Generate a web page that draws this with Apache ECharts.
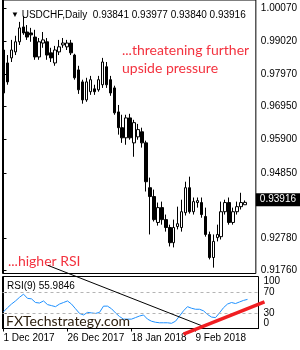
<!DOCTYPE html>
<html>
<head>
<meta charset="utf-8">
<script src="https://cdn.jsdelivr.net/npm/echarts@6/dist/echarts.min.js"></script>
<style>
  html, body { margin: 0; padding: 0; background: #fff; }
  #chart { width: 300px; height: 350px; }
</style>
</head>
<body>
<div id="chart"></div>
<script>
// USDCHF daily bars, 1 Dec 2017 - 28 Feb 2018
const dates = [
  '1 Dec 2017', '4 Dec 2017', '5 Dec 2017', '6 Dec 2017', '7 Dec 2017', '8 Dec 2017',
  '11 Dec 2017', '12 Dec 2017', '13 Dec 2017', '14 Dec 2017', '15 Dec 2017',
  '18 Dec 2017', '19 Dec 2017', '20 Dec 2017', '21 Dec 2017', '22 Dec 2017',
  '26 Dec 2017', '27 Dec 2017', '28 Dec 2017', '29 Dec 2017',
  '2 Jan 2018', '3 Jan 2018', '4 Jan 2018', '5 Jan 2018',
  '8 Jan 2018', '9 Jan 2018', '10 Jan 2018', '11 Jan 2018', '12 Jan 2018',
  '15 Jan 2018', '16 Jan 2018', '17 Jan 2018', '18 Jan 2018', '19 Jan 2018',
  '22 Jan 2018', '23 Jan 2018', '24 Jan 2018', '25 Jan 2018', '26 Jan 2018',
  '29 Jan 2018', '30 Jan 2018', '31 Jan 2018', '1 Feb 2018', '2 Feb 2018',
  '5 Feb 2018', '6 Feb 2018', '7 Feb 2018', '8 Feb 2018', '9 Feb 2018',
  '12 Feb 2018', '13 Feb 2018', '14 Feb 2018', '15 Feb 2018', '16 Feb 2018',
  '19 Feb 2018', '20 Feb 2018', '21 Feb 2018', '22 Feb 2018', '23 Feb 2018',
  '26 Feb 2018', '27 Feb 2018', '28 Feb 2018'
]
const opens = [
  0.9874, 0.9833, 0.9849, 0.9868, 0.9900, 0.9947, 0.9931, 0.9928, 0.9915, 0.9852,
  0.9896, 0.9900, 0.9865, 0.9833, 0.9868, 0.9890, 0.9884, 0.9896, 0.9858, 0.9811,
  0.9773, 0.9716, 0.9742, 0.9751, 0.9748, 0.9764, 0.9821, 0.9780, 0.9754, 0.9678,
  0.9628, 0.9596, 0.9659, 0.9580, 0.9599, 0.9615, 0.9580, 0.9438, 0.9410, 0.9328,
  0.9375, 0.9337, 0.9312, 0.9264, 0.9315, 0.9312, 0.9359, 0.9438, 0.9362, 0.9391,
  0.9391, 0.9347, 0.9290, 0.9217, 0.9280, 0.9283, 0.9362, 0.9391, 0.9328, 0.9362,
  0.9378, 0.93841
]
const closes = [
  0.9738, 0.9773, 0.9874, 0.9900, 0.9944, 0.9928, 0.9915, 0.9922, 0.9852, 0.9900,
  0.9906, 0.9858, 0.9849, 0.9874, 0.9884, 0.9896, 0.9896, 0.9865, 0.9786, 0.9748,
  0.9716, 0.9773, 0.9780, 0.9742, 0.9780, 0.9836, 0.9764, 0.9738, 0.9675, 0.9628,
  0.9596, 0.9659, 0.9596, 0.9644, 0.9622, 0.9580, 0.9457, 0.9410, 0.9337, 0.9375,
  0.9337, 0.9312, 0.9264, 0.9312, 0.9324, 0.9362, 0.9438, 0.9362, 0.9394, 0.9397,
  0.9353, 0.9290, 0.9217, 0.9268, 0.9290, 0.9362, 0.9391, 0.9328, 0.9362, 0.9378,
  0.9391, 0.93916
]
const lows = [
  0.9723, 0.9764, 0.9836, 0.9858, 0.9890, 0.9922, 0.9906, 0.9900, 0.9843, 0.9843,
  0.9881, 0.9843, 0.9836, 0.9824, 0.9858, 0.9881, 0.9874, 0.9858, 0.9780, 0.9735,
  0.9704, 0.9710, 0.9732, 0.9732, 0.9742, 0.9754, 0.9754, 0.9729, 0.9669, 0.9606,
  0.9580, 0.9574, 0.9590, 0.9536, 0.9590, 0.9565, 0.9426, 0.9290, 0.9331, 0.9318,
  0.9321, 0.9299, 0.9252, 0.9249, 0.9306, 0.9299, 0.9350, 0.9356, 0.9353, 0.9375,
  0.9343, 0.9283, 0.9211, 0.9185, 0.9268, 0.9274, 0.9353, 0.9321, 0.9321, 0.9353,
  0.9369, 0.93840
]
const highs = [
  0.9890, 0.9858, 0.9906, 0.9919, 0.9963, 0.9982, 0.9953, 0.9944, 0.9938, 0.9912,
  0.9931, 0.9912, 0.9881, 0.9887, 0.9906, 0.9912, 0.9906, 0.9906, 0.9862, 0.9824,
  0.9780, 0.9786, 0.9792, 0.9764, 0.9792, 0.9849, 0.9836, 0.9792, 0.9761, 0.9700,
  0.9669, 0.9669, 0.9672, 0.9653, 0.9640, 0.9628, 0.9587, 0.9470, 0.9432, 0.9391,
  0.9394, 0.9353, 0.9321, 0.9337, 0.9378, 0.9400, 0.9457, 0.9473, 0.9407, 0.9407,
  0.9407, 0.9375, 0.9299, 0.9290, 0.9321, 0.9394, 0.9400, 0.9407, 0.9375, 0.9394,
  0.9422, 0.93977
]
const rsi = [
  32, 40, 47, 53, 60, 66, 58, 57, 50, 49,
  53, 46, 44, 42, 47, 50, 53, 47, 38, 29,
  26, 31, 30, 29, 31, 43, 43, 38, 30, 23,
  18, 18, 18, 21, 24, 26, 18, 14, 12, 11,
  11, 11, 10, 14, 24, 34, 42, 39, 37, 37,
  34, 27, 22, 21, 30, 40, 47, 50, 48, 51,
  54, 55.9846
]
const priceTicks = [1.0007, 0.9902, 0.9797, 0.9695, 0.959, 0.9485, 0.9278, 0.9176]
const rsiTicks = [0, 30, 70, 100]
const dateTicks = [0, 16, 32, 48]
const lastPrice = 0.93916
const lastRsi = 55.9846

// trend lines, in [bar index, value]
const rsiTrendStart = [11.25, 0.9192]  // main panel
const rsiTrendEnd = [50, 4]            // rsi panel
const supportStart = [45, -11]
const supportEnd = [65.25, 51]

const font = 'Liberation Sans'
const chart = echarts.init(document.getElementById('chart'))

chart.setOption({
  animation: false,
  textStyle: { fontFamily: font },
  title: {
    text: '{tri|▼} USDCHF,Daily  0.93841 0.93977 0.93840 0.93916',
    left: 6,
    top: 5,
    textStyle: {
      fontSize: 10,
      fontWeight: 'normal',
      color: '#000',
      fontFamily: font,
      rich: { tri: { fontSize: 8, color: '#000' } }
    }
  },
  grid: [
    { left: 2.5, right: 41.5, top: -0.5, height: 274, show: true, borderColor: '#000', borderWidth: 1 },
    { left: 2.5, right: 41.5, top: 276.5, height: 52, show: true, borderColor: '#000', borderWidth: 1 }
  ],
  xAxis: [
    { type: 'value', gridIndex: 0, min: -0.25, max: 63.75, show: false },
    {
      type: 'value',
      gridIndex: 1,
      min: -0.25,
      max: 63.75,
      axisLine: { show: true, lineStyle: { color: '#000' } },
      axisTick: { customValues: dateTicks, length: 3, lineStyle: { color: '#000' } },
      axisLabel: {
        customValues: dateTicks,
        formatter: v => dates[v],
        align: 'left',
        margin: 5,
        fontSize: 10,
        color: '#000'
      },
      splitLine: { show: false }
    }
  ],
  yAxis: [
    {
      type: 'value',
      gridIndex: 0,
      position: 'right',
      min: 0.91664,
      max: 1.00323,
      axisLine: { show: true, lineStyle: { color: '#000' } },
      axisTick: { show: true, customValues: priceTicks, length: 3, lineStyle: { color: '#000' } },
      axisLabel: {
        customValues: priceTicks,
        formatter: v => v.toFixed(5),
        fontSize: 10,
        color: '#000',
        margin: 5
      },
      splitLine: { show: false }
    },
    {
      type: 'value',
      gridIndex: 1,
      position: 'right',
      min: 0,
      max: 100,
      axisLine: { show: true, lineStyle: { color: '#000' } },
      axisTick: { show: true, customValues: rsiTicks, length: 3, lineStyle: { color: '#000' } },
      axisLabel: {
        customValues: rsiTicks,
        fontSize: 10,
        color: '#000',
        margin: 5,
        verticalAlignMinLabel: 'bottom',
        verticalAlignMaxLabel: 'top'
      },
      splitLine: { show: false }
    }
  ],
  series: [
    {
      type: 'candlestick',
      xAxisIndex: 0,
      yAxisIndex: 0,
      data: opens.map((o, i) => [i, o, closes[i], lows[i], highs[i]]),
      encode: { x: 0, y: [1, 2, 3, 4] },
      barWidth: 3,
      itemStyle: {
        color: '#fff',
        color0: '#000',
        borderColor: '#000',
        borderColor0: '#000',
        borderWidth: 1
      },
      markLine: {
        silent: true,
        symbol: 'none',
        data: [{ yAxis: lastPrice }],
        lineStyle: { color: 'rgba(0,0,0,0)', width: 1 },
        label: {
          show: true,
          position: 'end',
          distance: 0,
          formatter: lastPrice.toFixed(5),
          backgroundColor: '#000',
          color: '#fff',
          fontSize: 10,
          padding: [2, 4, 1, 4]
        }
      }
    },
    {
      type: 'line',
      xAxisIndex: 1,
      yAxisIndex: 1,
      data: rsi.map((v, i) => [i, v]),
      showSymbol: false,
      lineStyle: { color: '#1e90ff', width: 1 },
      markLine: {
        silent: true,
        symbol: 'none',
        label: { show: false },
        lineStyle: { type: [3, 3], color: '#b4b4b4', width: 1 },
        data: [{ yAxis: 30 }, { yAxis: 70 }]
      }
    }
  ]
})

// annotations drawn on top once the scales exist
const a = chart.convertToPixel({ gridIndex: 0 }, rsiTrendStart)
const b = chart.convertToPixel({ gridIndex: 1 }, rsiTrendEnd)
const c = chart.convertToPixel({ gridIndex: 1 }, supportStart)
const d = chart.convertToPixel({ gridIndex: 1 }, supportEnd)
const red = '#f3323f'

chart.setOption({
  graphic: [
    {
      type: 'text', z: 100, x: 7, y: 280,
      style: { text: 'RSI(9) ' + lastRsi.toFixed(4), fill: '#000', fontSize: 10, fontFamily: font, lineHeight: 12 }
    },
    {
      type: 'text', z: 100, x: 122, y: 41,
      style: { text: '...threatening further\nupside pressure', fill: red, fontSize: 14, fontFamily: 'Lato', lineHeight: 18 }
    },
    {
      type: 'text', z: 100, x: 8, y: 252,
      style: { text: '...higher RSI', fill: red, fontSize: 14, fontFamily: 'Lato', lineHeight: 18 }
    },
    {
      type: 'text', z: 100, x: 6, y: 312,
      style: { text: 'FXTechstrategy.com', fill: '#2e2010', fontSize: 14, fontFamily: 'Lato', lineHeight: 18 }
    },
    {
      type: 'line', z: 100,
      shape: { x1: a[0], y1: a[1], x2: b[0], y2: b[1] },
      style: { stroke: '#000', lineWidth: 1 }
    },
    {
      type: 'line', z: 101,
      shape: { x1: c[0], y1: c[1], x2: d[0], y2: d[1] },
      style: { stroke: '#f01e22', lineWidth: 3.5 }
    }
  ]
})
</script>
</body>
</html>
